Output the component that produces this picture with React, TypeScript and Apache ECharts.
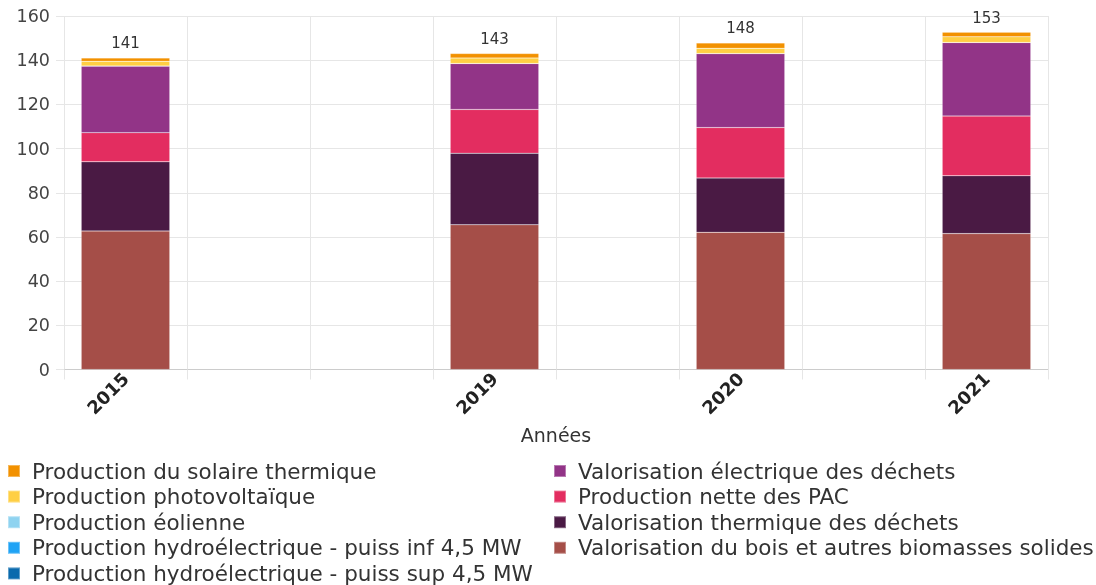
import React, { useEffect, useRef } from "react";
import * as echarts from "echarts";

const CATEGORIES = ["2015", " ", "  ", "2019", "   ", "2020", "    ", "2021"];
const YEARS = ["2015", "2019", "2020", "2021"];

const SERIES_NAMES = [
  "Valorisation du bois et autres biomasses solides",
  "Valorisation thermique des déchets",
  "Production nette des PAC",
  "Valorisation électrique des déchets",
  "Production hydroélectrique - puiss sup 4,5 MW",
  "Production hydroélectrique - puiss inf 4,5 MW",
  "Production éolienne",
  "Production photovoltaïque",
  "Production du solaire thermique",
];

const BOIS = [62.7, 65.5, 62.1, 61.5];
const THERMIQUE_DECHETS = [31.3, 32.4, 24.6, 26.2];
const PAC = [13.2, 19.8, 22.8, 27.0];
const ELEC_DECHETS = [30.2, 20.8, 33.5, 33.3];
const HYDRO_SUP = [0, 0, 0, 0];
const HYDRO_INF = [0, 0, 0, 0];
const EOLIEN = [0, 0, 0, 0];
const PV = [2.1, 2.5, 2.4, 2.6];
const SOLAIRE_THERMIQUE = [1.5, 2.0, 2.4, 2.1];

const VALUES = [BOIS, THERMIQUE_DECHETS, PAC, ELEC_DECHETS, HYDRO_SUP, HYDRO_INF, EOLIEN, PV, SOLAIRE_THERMIQUE];

const COLORS = ["#a54e48", "#4a1a44", "#e32d60", "#923487", "#0a6aad", "#1fa3f5", "#8fd3f0", "#ffcf44", "#f29100"];

const LEFT_LEGEND = [
  "Production du solaire thermique",
  "Production photovoltaïque",
  "Production éolienne",
  "Production hydroélectrique - puiss inf 4,5 MW",
  "Production hydroélectrique - puiss sup 4,5 MW",
];
const RIGHT_LEGEND = [
  "Valorisation électrique des déchets",
  "Production nette des PAC",
  "Valorisation thermique des déchets",
  "Valorisation du bois et autres biomasses solides",
];

const FONT = "DejaVu Sans";

export default function App() {
  const ref = useRef<HTMLDivElement>(null);
  useEffect(() => {
    if (!ref.current) return;
    const chart = echarts.init(ref.current, null, { renderer: "svg" });
    const totals = YEARS.map((_, i) => VALUES.reduce((s, arr) => s + arr[i], 0));
    const toCat = (arr: number[]) =>
      CATEGORIES.map((c) => {
        const idx = YEARS.indexOf(c);
        return idx >= 0 ? arr[idx] : null;
      });
    const series = SERIES_NAMES.map((name, si) => ({
      name,
      type: "bar",
      stack: "total",
      barCategoryGap: "28%",
      data: toCat(VALUES[si]),
      itemStyle: { color: COLORS[si], borderColor: "rgba(255,255,255,0.35)", borderWidth: 0.5 },
      label:
        si === SERIES_NAMES.length - 1
          ? {
              show: true,
              position: "top",
              distance: 7,
              color: "#333",
              fontSize: 15,
              fontFamily: FONT,
              formatter: (p: any) => {
                const idx = YEARS.indexOf(CATEGORIES[p.dataIndex]);
                return idx >= 0 ? String(Math.round(totals[idx])) : "";
              },
            }
          : { show: false },
    }));
    const legendCommon = {
      orient: "vertical",
      top: 460,
      height: 130,
      itemWidth: 12,
      itemHeight: 12,
      itemGap: 3.6,
      icon: "rect",
      padding: 0,
      textStyle: {
        fontSize: 21.5,
        fontFamily: FONT,
        color: "#333",
        lineHeight: 22,
        padding: [0, 0, 0, 7],
      },
      selectedMode: false,
    };
    chart.setOption({
      animation: false,
      textStyle: { fontFamily: FONT },
      grid: { left: 64, right: 48, top: 16, bottom: 215.5, containLabel: false },
      legend: [
        { ...legendCommon, left: 7, data: LEFT_LEGEND },
        { ...legendCommon, left: 553, data: RIGHT_LEGEND },
      ],
      xAxis: {
        type: "category",
        data: CATEGORIES,
        name: "Années",
        nameLocation: "middle",
        nameGap: 56,
        nameTextStyle: { fontSize: 19, color: "#333", fontFamily: FONT },
        axisLine: { lineStyle: { color: "#cccccc" } },
        axisTick: { show: true, length: 10, lineStyle: { color: "#e6e6e6" } },
        splitLine: { show: true, interval: 0, lineStyle: { color: "#e6e6e6" } },
        axisLabel: {
          rotate: 45,
          interval: 0,
          margin: 6,
          fontSize: 18,
          fontWeight: "bold",
          color: "#222",
          fontFamily: FONT,
          padding: [0, 0, 0, 0],
        },
      },
      yAxis: {
        type: "value",
        min: 0,
        max: 160,
        interval: 20,
        axisLine: { show: false },
        axisTick: { show: true, length: 8, lineStyle: { color: "#e6e6e6" } },
        splitLine: { lineStyle: { color: "#e6e6e6" } },
        axisLabel: { fontSize: 17.5, color: "#444", margin: 14, fontFamily: FONT },
      },
      series,
    });
    return () => chart.dispose();
  }, []);
  return <div ref={ref} style={{ position: "fixed", left: 0, top: 0, width: 1096, height: 585 }} />;
}
